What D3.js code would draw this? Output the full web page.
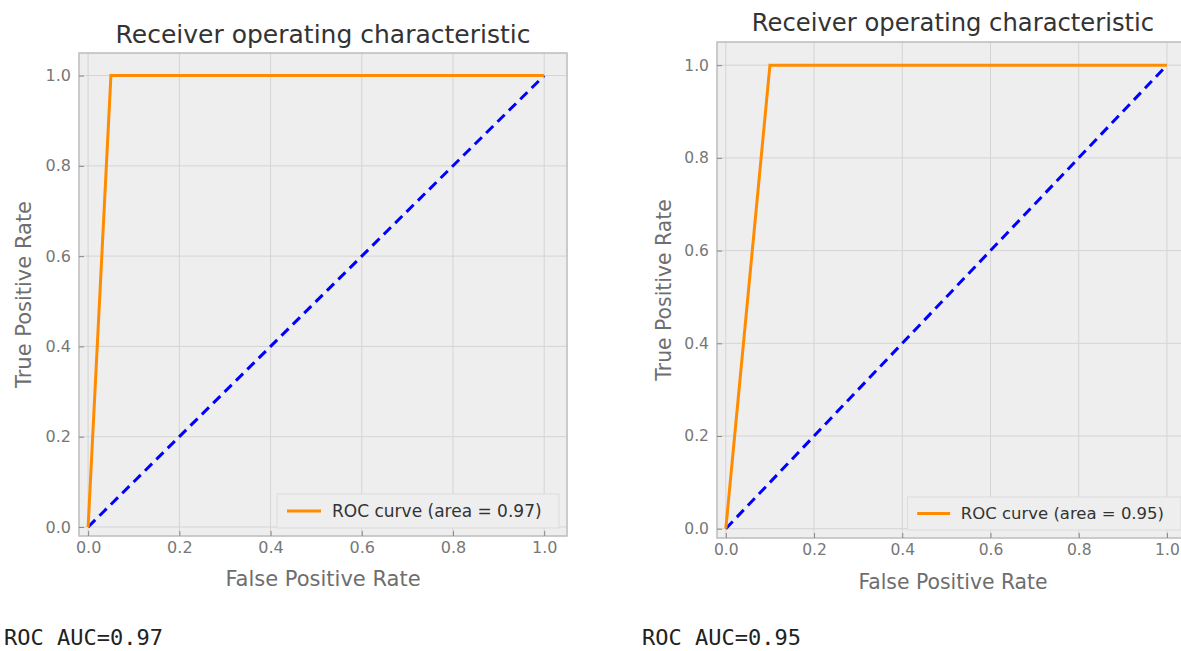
<!DOCTYPE html>
<html>
<head>
<meta charset="utf-8">
<script src="https://cdn.jsdelivr.net/npm/d3@7"></script>
<style>
  body { margin: 0; background: #fff; }
  svg { display: block; }
</style>
</head>
<body>
<script>
// ROC data for the two models
const fprLeft = [0, 0.05, 1];
const tprLeft = [0, 1, 1];
const fprRight = [0, 0.1, 1];
const tprRight = [0, 1, 1];
const chanceLine = [0, 1];
const tickValues = [0, 0.2, 0.4, 0.6, 0.8, 1.0];
const aucValues = [0.97, 0.95];

const width = 1181;
const height = 651;

const svg = d3.select("body").append("svg")
    .attr("width", width)
    .attr("height", height);

// Frame box of each panel, in pixels (right panel is drawn a bit smaller)
const panels = [
    { fpr: fprLeft, tpr: tprLeft, auc: aucValues[0], s: 1,
      left: 79, right: 567, top: 53, bottom: 536,
      titleY: 43, xlabelY: 586, ylabelX: 31, footX: 4, footY: 645 },
    { fpr: fprRight, tpr: tprRight, auc: aucValues[1], s: 0.97,
      left: 717, right: 1189, top: 42, bottom: 538,
      titleY: 31, xlabelY: 589, ylabelX: 671, footX: 642, footY: 645 }
];

const domain = [-0.02, 1.05];

panels.forEach(p => {
    const s = p.s;
    const x = d3.scaleLinear().domain(domain).range([p.left, p.right]);
    const y = d3.scaleLinear().domain(domain).range([p.bottom, p.top]);
    const g = svg.append("g");

    // Background
    g.append("rect")
        .attr("x", p.left).attr("y", p.top)
        .attr("width", p.right - p.left).attr("height", p.bottom - p.top)
        .style("fill", "#eeeeee");

    // Grid lines
    g.selectAll(".vgrid").data(tickValues).enter().append("line")
        .attr("x1", d => x(d)).attr("x2", d => x(d))
        .attr("y1", p.top).attr("y2", p.bottom)
        .style("stroke", "#d4d4d4").style("stroke-width", "1px");
    g.selectAll(".hgrid").data(tickValues).enter().append("line")
        .attr("y1", d => y(d)).attr("y2", d => y(d))
        .attr("x1", p.left).attr("x2", p.right)
        .style("stroke", "#d4d4d4").style("stroke-width", "1px");

    // Frame
    g.append("rect")
        .attr("x", p.left).attr("y", p.top)
        .attr("width", p.right - p.left).attr("height", p.bottom - p.top)
        .style("fill", "none").style("stroke", "#bcbcbc").style("stroke-width", "1.5px");

    // Axes with inward ticks
    const xAxis = d3.axisBottom(x).tickValues(tickValues).tickFormat(d3.format(".1f"))
        .tickSizeInner(-5).tickSizeOuter(0).tickPadding(6);
    const yAxis = d3.axisLeft(y).tickValues(tickValues).tickFormat(d3.format(".1f"))
        .tickSizeInner(-5).tickSizeOuter(0).tickPadding(8);

    const gx = g.append("g").attr("transform", `translate(0,${p.bottom})`).call(xAxis);
    const gy = g.append("g").attr("transform", `translate(${p.left},0)`).call(yAxis);
    [gx, gy].forEach(a => {
        a.select(".domain").remove();
        a.selectAll("line").style("stroke", "#888");
        a.selectAll("text")
            .style("font-family", "DejaVu Sans")
            .style("font-size", `${16 * s}px`)
            .style("fill", "#777");
    });

    // Chance diagonal
    const line = d3.line().x(d => x(d[0])).y(d => y(d[1]));
    g.append("path")
        .datum(chanceLine.map(v => [v, v]))
        .attr("d", line)
        .style("fill", "none").style("stroke", "#0000ff")
        .style("stroke-width", "3px").style("stroke-dasharray", "10,6");

    // ROC curve
    g.append("path")
        .datum(p.fpr.map((f, i) => [f, p.tpr[i]]))
        .attr("d", line)
        .style("fill", "none").style("stroke", "#ff8c00")
        .style("stroke-width", "3px");

    // Legend
    const lw = 282 * s, lh = 34 * s;
    const lx = p.right - 8 - lw, ly = p.bottom - 8 - lh;
    g.append("rect")
        .attr("x", lx).attr("y", ly).attr("width", lw).attr("height", lh)
        .style("fill", "#eeeeee").style("stroke", "#dcdcdc").style("stroke-width", "1px");
    g.append("line")
        .attr("x1", lx + 10 * s).attr("x2", lx + 44 * s)
        .attr("y1", ly + lh / 2).attr("y2", ly + lh / 2)
        .style("stroke", "#ff8c00").style("stroke-width", "3px");
    g.append("text")
        .attr("x", lx + 55 * s).attr("y", ly + lh / 2 + 6 * s)
        .text(`ROC curve (area = ${p.auc.toFixed(2)})`)
        .style("font-family", "DejaVu Sans").style("font-size", `${17 * s}px`).style("fill", "#333");

    // Title and axis labels
    const cx = (p.left + p.right) / 2;
    g.append("text")
        .attr("x", cx).attr("y", p.titleY).attr("text-anchor", "middle")
        .text("Receiver operating characteristic")
        .style("font-family", "DejaVu Sans").style("font-size", `${25 * s}px`).style("fill", "#333");
    g.append("text")
        .attr("x", cx).attr("y", p.xlabelY).attr("text-anchor", "middle")
        .text("False Positive Rate")
        .style("font-family", "DejaVu Sans").style("font-size", `${21 * s}px`).style("fill", "#6e6e6e");
    g.append("text")
        .attr("transform", `translate(${p.ylabelX},${(p.top + p.bottom) / 2}) rotate(-90)`)
        .attr("text-anchor", "middle")
        .text("True Positive Rate")
        .style("font-family", "DejaVu Sans").style("font-size", `${21 * s}px`).style("fill", "#6e6e6e");

    // Printed AUC below the chart
    g.append("text")
        .attr("x", p.footX).attr("y", p.footY)
        .text(`ROC AUC=${p.auc.toFixed(2)}`)
        .style("font-family", "DejaVu Sans Mono").style("font-size", "22px").style("fill", "#222");
});
</script>
</body>
</html>
